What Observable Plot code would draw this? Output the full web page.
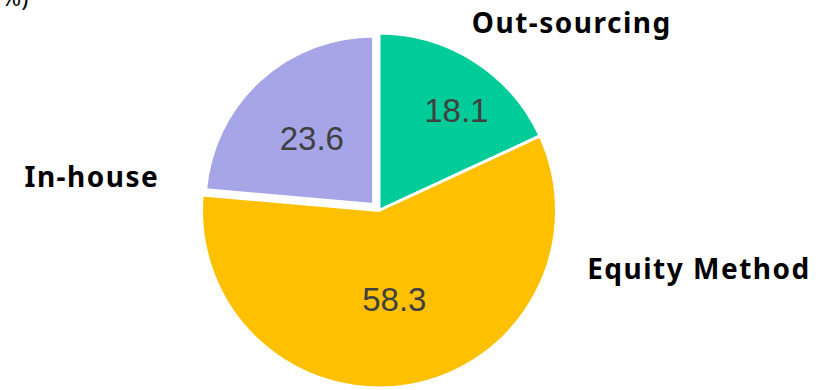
<!DOCTYPE html>
<html><head><meta charset="utf-8">
<script src="https://cdn.jsdelivr.net/npm/d3@7"></script>
<script src="https://cdn.jsdelivr.net/npm/@observablehq/plot@0.6"></script>
<style>body{margin:0;background:#fff;overflow:hidden}
svg g[font-weight="bold"] text{letter-spacing:1.5px}</style>
</head><body><div id="chart"></div>
<script>
// ---- data ----
const categories = ["Out-sourcing", "Equity Method", "In-house"];
const values = [18.1, 58.3, 23.6];
const valueLabels = ["18.1", "58.3", "23.6"];
const colors = ["#00cc99", "#ffc000", "#a5a5e8"];
const unitLabel = "(Unit: %)";

// ---- layout (pie units: 1 = pie radius) ----
const W = 830, H = 390, CXpx = 379, CYpx = 210.5, Rpx = 177.5;
const explode = {"In-house": {offset: 0.045, radius: 0.95}};
const catLabelPos = {"Out-sourcing": [0.52, 1.003], "Equity Method": [1.17, -0.381], "In-house": [-2.0, 0.133]};
const valuePlace = {"Out-sourcing": {shift: 5, r: 0.71}, "Equity Method": {shift: 0.5, r: 0.51}, "In-house": {shift: -1, r: 0.51}};

const rows = categories.map((c, i) => ({category: c, value: values[i], label: valueLabels[i], color: colors[i]}));
const arcs = d3.pie().sort(null).value(d => d.value)(rows);

const valueRows = arcs.map(a => {
  const p = valuePlace[a.data.category];
  const mid = (a.startAngle + a.endAngle) / 2;
  const ang = mid + p.shift * Math.PI / 180;
  const ex = explode[a.data.category];
  const off = ex ? ex.offset : 0;
  return {
    label: a.data.label,
    x: p.r * Math.sin(ang) + off * Math.sin(mid),
    y: p.r * Math.cos(ang) + off * Math.cos(mid)
  };
});
const catRows = categories.map(c => ({label: c, x: catLabelPos[c][0], y: catLabelPos[c][1]}));

function slices(index, scales) {
  const k = scales.x(1) - scales.x(0);
  const cx = scales.x(0), cy = scales.y(0);
  const g = d3.create("svg:g");
  for (const a of arcs) {
    const ex = explode[a.data.category];
    const r = (ex ? ex.radius : 1) * k;
    const off = (ex ? ex.offset : 0) * k;
    const mid = (a.startAngle + a.endAngle) / 2;
    g.append("path")
      .attr("d", d3.arc().innerRadius(0).outerRadius(r)(a))
      .attr("transform", `translate(${cx + off * Math.sin(mid)},${cy - off * Math.cos(mid)})`)
      .attr("fill", a.data.color)
      .attr("stroke", "#fff")
      .attr("stroke-width", 3)
      .attr("stroke-linejoin", "round");
  }
  return g.node();
}

const chart = Plot.plot({
  width: W, height: H,
  margin: 0,
  x: {domain: [-CXpx / Rpx, (W - CXpx) / Rpx], range: [0, W], axis: null},
  y: {domain: [-(H - CYpx) / Rpx, CYpx / Rpx], range: [H, 0], axis: null},
  style: {background: "#fff", overflow: "visible"},
  marks: [
    slices,
    Plot.text(valueRows, {x: "x", y: "y", text: "label", fontSize: 33, fill: "#404040",
      fontFamily: "Liberation Sans, Arial, sans-serif", textAnchor: "middle"}),
    Plot.text(catRows, {x: "x", y: "y", text: "label", fontSize: 28, fontWeight: "bold", fill: "#000",
      fontFamily: "Noto Sans, sans-serif", textAnchor: "start", lineAnchor: "bottom"}),
    Plot.text([unitLabel], {x: 28 / Rpx - CXpx / Rpx, y: (CYpx - 5) / Rpx, text: d => d, fontSize: 24,
      fill: "#000", fontFamily: "Noto Sans, sans-serif", textAnchor: "end", lineAnchor: "bottom"})
  ]
});
document.getElementById("chart").appendChild(chart);
</script>
</body></html>
